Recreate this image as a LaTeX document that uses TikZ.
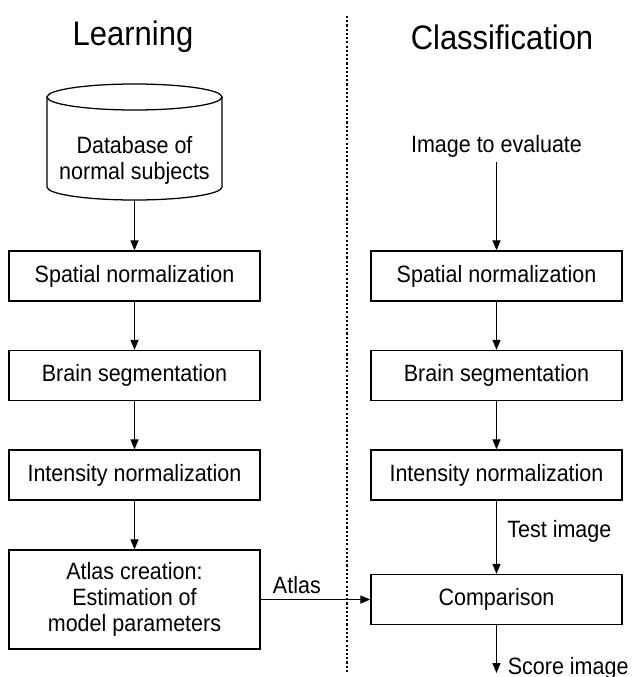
\documentclass[tikz,border=0pt]{standalone}
\usepackage{fontspec}
\setmainfont{Liberation Sans}[FakeStretch=0.91]
\usetikzlibrary{arrows.meta}

\begin{document}
\begin{tikzpicture}[x=0.025cm,y=-0.025cm,line width=.9pt,
          every node/.style={font=\fontsize{16.8}{18.5}\selectfont},
          title/.style={font=\fontsize{24.2}{28}\selectfont},
          stage/.style={rectangle,draw,align=center,inner sep=0pt,
              minimum width=6.275cm,minimum height=1.25cm},
          flow/.style={-{Triangle[length=.25cm,width=.2cm]}}]
        \useasboundingbox (0,0) rectangle (634,677);
        % titles and divider
        \node[title] (learn) at (133,37) {Learning};
        \node[title] (classif) at (502,37) {Classification};
        \draw[dash pattern=on 1.5pt off 1.5pt] (347,16)--(347,672);

        % learning column: database drum
        \draw (134.5,97) ellipse[x radius=87.5,y radius=13];
        \draw (47,97)--(47,187) arc[start angle=180,end angle=0,x radius=87.5,y radius=13]--(222,97);
        \node[align=center] (db) at (134.5,160) {Database of\\normal subjects};
        \coordinate (dbbase) at (134.5,200);
        \node[stage] (lspat) at (134.5,276) {Spatial normalization};
        \node[stage] (lseg) at (134.5,375.5) {Brain segmentation};
        \node[stage] (lint) at (134.5,475) {Intensity normalization};
        \node[stage,minimum height=2.475cm] (atlas) at (134.5,599.5)
          {Atlas creation:\\Estimation of\\model parameters};

        % classification column
        \node (img) at (496.5,146) {Image to evaluate};
        \node[stage] (rspat) at (496.5,276) {Spatial normalization};
        \node[stage] (rseg) at (496.5,375.5) {Brain segmentation};
        \node[stage] (rint) at (496.5,475) {Intensity normalization};
        \node[stage] (comp) at (496.5,599.5) {Comparison};
        \coordinate (score) at (496.5,673);

        \draw[flow] (dbbase)--(lspat);
        \draw[flow] (lspat)--(lseg);
        \draw[flow] (lseg)--(lint);
        \draw[flow] (lint)--(atlas);
        \draw[flow] (img)--(rspat);
        \draw[flow] (rspat)--(rseg);
        \draw[flow] (rseg)--(rint);
        \draw[flow] (rint)--node[right,xshift=.14cm,yshift=.14cm]{Test image}(comp);
        \draw[flow] (atlas.east)--node[pos=.33,above]{Atlas}(atlas.east-|comp.west);
        \draw[flow] (comp)--(score) node[right,xshift=.15cm,yshift=.125cm]{Score image};
      \end{tikzpicture}
\end{document}
